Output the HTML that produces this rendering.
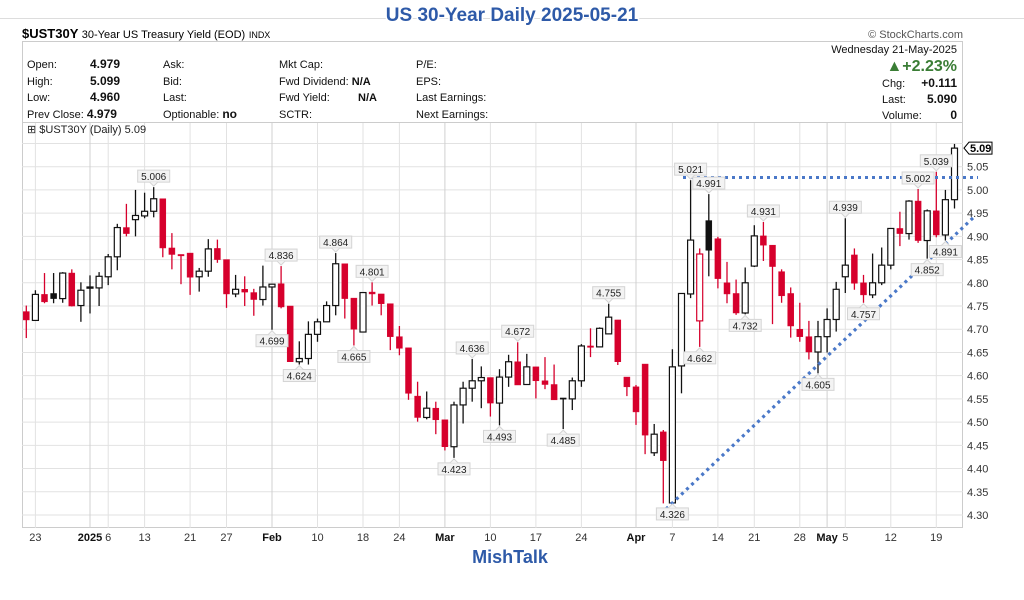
<!DOCTYPE html>
<html><head><meta charset="utf-8"><style>
body{margin:0;background:#fff;}
svg text{font-family:"Liberation Sans",sans-serif;}
</style></head><body>
<svg id="c" width="1024" height="595" viewBox="0 0 1024 595" xmlns="http://www.w3.org/2000/svg">
<line x1="0" y1="18.5" x2="1024" y2="18.5" stroke="#ddd"/>
<text x="512" y="21" text-anchor="middle" font-size="19" font-weight="bold" fill="#2e5aa8" stroke="#fff" stroke-width="3" paint-order="stroke">US 30-Year Daily 2025-05-21</text>
<text x="22" y="38" font-size="13" font-weight="bold" fill="#000">$UST30Y <tspan font-weight="normal" font-size="11">30-Year US Treasury Yield (EOD)</tspan> <tspan font-weight="normal" font-size="9">INDX</tspan></text>
<text x="963" y="38" text-anchor="end" font-size="11" fill="#555">© StockCharts.com</text>
<rect x="22.5" y="41.5" width="940" height="486" fill="none" stroke="#ccc"/>
<line x1="22" y1="122.5" x2="963" y2="122.5" stroke="#ccc"/>
<g font-size="11" fill="#111">
<text x="27" y="68">Open:</text><text x="90" y="68" font-weight="bold" font-size="12">4.979</text>
<text x="27" y="85">High:</text><text x="90" y="85" font-weight="bold" font-size="12">5.099</text>
<text x="27" y="101">Low:</text><text x="90" y="101" font-weight="bold" font-size="12">4.960</text>
<text x="27" y="118">Prev Close: <tspan font-weight="bold" font-size="12">4.979</tspan></text>
<text x="163" y="68">Ask:</text><text x="163" y="85">Bid:</text><text x="163" y="101">Last:</text>
<text x="163" y="118">Optionable: <tspan font-weight="bold" font-size="12">no</tspan></text>
<text x="279" y="68">Mkt Cap:</text>
<text x="279" y="85">Fwd Dividend: <tspan font-weight="bold">N/A</tspan></text>
<text x="279" y="101">Fwd Yield:</text><text x="358" y="101" font-weight="bold">N/A</text>
<text x="279" y="118">SCTR:</text>
<text x="416" y="68">P/E:</text><text x="416" y="85">EPS:</text><text x="416" y="101">Last Earnings:</text><text x="416" y="118">Next Earnings:</text>
<text x="957" y="53" text-anchor="end">Wednesday  21-May-2025</text>
<text x="957" y="71" text-anchor="end" font-size="16" font-weight="bold" fill="#3a7d35">▲+2.23%</text>
<text x="882" y="87">Chg:</text><text x="957" y="87" text-anchor="end" font-weight="bold" font-size="12">+0.111</text>
<text x="882" y="103">Last:</text><text x="957" y="103" text-anchor="end" font-weight="bold" font-size="12">5.090</text>
<text x="882" y="119">Volume:</text><text x="957" y="119" text-anchor="end" font-weight="bold" font-size="12">0</text>
</g>
<g id="grid"></g>
<g id="candles"></g>
<g id="trend"></g>
<g id="labels"></g>
<g id="axis"></g>
<text x="27" y="133" font-size="11" font-family="Liberation Mono" fill="#222">⊞ $UST30Y (Daily) 5.09</text>
<text x="510" y="563" text-anchor="middle" font-size="18" font-weight="bold" fill="#2e5aa8">MishTalk</text>
</svg>
<script>
const opens=[4.738,4.719,4.775,4.777,4.766,4.821,4.751,4.790,4.789,4.813,4.856,4.919,4.936,4.944,4.954,4.981,4.875,4.861,4.864,4.813,4.825,4.874,4.850,4.776,4.786,4.779,4.764,4.791,4.798,4.750,4.630,4.637,4.689,4.716,4.751,4.841,4.767,4.694,4.780,4.776,4.755,4.684,4.660,4.556,4.510,4.530,4.505,4.447,4.537,4.573,4.589,4.596,4.541,4.597,4.630,4.581,4.619,4.589,4.581,4.552,4.550,4.589,4.664,4.662,4.690,4.720,4.597,4.576,4.625,4.434,4.479,4.326,4.621,4.776,4.718,4.934,4.895,4.800,4.777,4.735,4.836,4.901,4.881,4.824,4.777,4.700,4.684,4.651,4.684,4.721,4.813,4.860,4.800,4.774,4.800,4.838,4.917,4.906,4.976,4.891,4.955,4.903,4.979];
const highs=[4.751,4.784,4.821,4.821,4.823,4.829,4.801,4.816,4.823,4.862,4.927,4.970,5.000,4.994,5.006,4.981,4.907,4.861,4.864,4.832,4.894,4.893,4.850,4.817,4.814,4.787,4.837,4.797,4.836,4.750,4.674,4.717,4.723,4.760,4.864,4.841,4.767,4.779,4.801,4.776,4.755,4.707,4.660,4.587,4.566,4.544,4.505,4.544,4.587,4.636,4.620,4.596,4.614,4.645,4.672,4.647,4.619,4.640,4.624,4.552,4.596,4.668,4.702,4.704,4.755,4.720,4.597,4.580,4.625,4.496,4.483,4.657,4.777,5.021,4.874,4.991,4.899,4.845,4.807,4.833,4.924,4.931,4.881,4.829,4.790,4.757,4.718,4.718,4.745,4.802,4.939,4.874,4.817,4.863,4.876,4.917,4.953,4.978,5.002,4.958,5.039,5.000,5.099];
const lows=[4.681,4.718,4.756,4.756,4.757,4.749,4.716,4.734,4.750,4.795,4.827,4.900,4.900,4.939,4.941,4.855,4.829,4.797,4.774,4.781,4.813,4.843,4.746,4.769,4.750,4.729,4.751,4.699,4.745,4.630,4.624,4.624,4.673,4.716,4.730,4.723,4.665,4.694,4.751,4.730,4.655,4.644,4.548,4.501,4.506,4.474,4.439,4.423,4.497,4.544,4.530,4.512,4.493,4.576,4.580,4.581,4.551,4.571,4.548,4.485,4.526,4.576,4.640,4.662,4.690,4.623,4.556,4.494,4.431,4.427,4.325,4.326,4.562,4.767,4.662,4.814,4.788,4.756,4.731,4.732,4.834,4.847,4.711,4.757,4.682,4.673,4.635,4.605,4.650,4.695,4.778,4.785,4.757,4.767,4.795,4.829,4.879,4.893,4.886,4.852,4.898,4.891,4.960];
const closes=[4.720,4.775,4.759,4.766,4.821,4.750,4.784,4.791,4.814,4.856,4.919,4.906,4.945,4.954,4.981,4.875,4.861,4.858,4.812,4.825,4.873,4.850,4.776,4.786,4.780,4.764,4.791,4.797,4.748,4.630,4.637,4.689,4.716,4.751,4.841,4.766,4.700,4.779,4.776,4.755,4.684,4.659,4.562,4.510,4.530,4.505,4.447,4.537,4.573,4.589,4.596,4.541,4.597,4.630,4.580,4.619,4.589,4.581,4.548,4.550,4.589,4.664,4.661,4.702,4.726,4.630,4.576,4.522,4.472,4.474,4.417,4.619,4.777,4.892,4.862,4.870,4.809,4.776,4.735,4.800,4.901,4.881,4.835,4.772,4.707,4.684,4.651,4.684,4.721,4.786,4.838,4.799,4.774,4.800,4.838,4.917,4.906,4.976,4.891,4.955,4.903,4.979,5.090];
const tickIdx=[1,7,9,13,18,22,27,32,37,41,46,51,56,61,67,71,76,80,85,88,90,95,100];
const tickText=["23","2025","6","13","21","27","Feb","10","18","24","Mar","10","17","24","Apr","7","14","21","28","May","5","12","19"];
const tickBold=[0,1,0,0,0,0,1,0,0,0,1,0,0,0,1,0,0,0,0,1,0,0,0];
const yTicks=[4.30,4.35,4.40,4.45,4.50,4.55,4.60,4.65,4.70,4.75,4.80,4.85,4.90,4.95,5.00,5.05,5.10];
const hiLabelIdx=[14,28,34,38,49,54,64,73,75,81,90,98,100];
const loLabelIdx=[27,30,36,47,52,59,71,74,79,87,92,99,101];
const lastValue=5.09;

const NS="http://www.w3.org/2000/svg";
const X0=26.3,DX=9.1,PL=22,PR=963,PT=123,PB=528;
function xs(i){return X0+i*DX;}
function ys(v){return 515-(v-4.30)*464.4;}
function mk(tag,attrs,parent){const e=document.createElementNS(NS,tag);for(const k in attrs)e.setAttribute(k,attrs[k]);parent.appendChild(e);return e;}
const grid=document.getElementById('grid'),cg=document.getElementById('candles'),lg=document.getElementById('labels'),ax=document.getElementById('axis'),tg=document.getElementById('trend');

yTicks.forEach(v=>{
  const y=ys(v);
  if(y>PT&&y<PB){const l=mk('line',{x1:PL,x2:PR,y1:y,y2:y,stroke:'#e2e2e2'},grid);
  
  }
  if(v<5.08){const t=mk('text',{x:967,y:y+4,'font-size':11,fill:'#333'},ax);t.textContent=v.toFixed(2);
  
  }
});
tickIdx.forEach((ix,k)=>{
  const x=xs(ix);
  const l=mk('line',{x1:x,x2:x,y1:PT,y2:PB,stroke:tickBold[k]?'#d0d0d0':'#e2e2e2'},grid);
  
  
  const t=mk('text',{x:x,y:541,'text-anchor':'middle','font-size':11,fill:tickBold[k]?'#111':'#333','font-weight':tickBold[k]?'bold':'normal'},ax);
  t.textContent=tickText[k];
  
  
});
for(let i=0;i<opens.length;i++){
  const x=xs(i),o=opens[i],c=closes[i];
  const red=i>0?c<closes[i-1]:true;
  const col=red?'#d6002c':'#111';
  const g=mk('g',{},cg);
  
  
  mk('line',{x1:x,x2:x,y1:ys(highs[i]),y2:ys(lows[i]),stroke:col,'stroke-width':1.3},g);
  const top=ys(Math.max(o,c)),bot=ys(Math.min(o,c));
  const filled=c<o;
  mk('rect',{x:x-3,y:top,width:6,height:Math.max(bot-top,1.2),fill:filled?col:'#fff',stroke:col,'stroke-width':filled?0.5:1.2},g);
}
const h=mk('line',{x1:683,y1:177.5,x2:978,y2:177.5,stroke:'#4a78c8','stroke-width':3,'stroke-dasharray':'3,4'},tg);


const d=mk('line',{x1:666,y1:509,x2:975,y2:216,stroke:'#4a78c8','stroke-width':3.2,'stroke-dasharray':'3,4'},tg);


function lab(i,v,up){
  const x=xs(i),w=32,hh=12;
  const yb=up?ys(v)-5:ys(v)+5;
  const y0=up?yb-hh:yb;
  const g=mk('g',{},lg);
  
  
  mk('rect',{x:x-w/2,y:y0,width:w,height:hh,fill:'#f3f3f3',stroke:'#d4d4d4','stroke-width':1},g);
  mk('path',{d:up?`M${x-4} ${yb} L${x} ${yb+4} L${x+4} ${yb}`:`M${x-4} ${yb} L${x} ${yb-4} L${x+4} ${yb}`,fill:'#f3f3f3',stroke:'#d4d4d4'},g);
  const t=mk('text',{x:x,y:y0+10,'text-anchor':'middle','font-size':10,fill:'#222'},g);
  t.textContent=v.toFixed(3);
}
hiLabelIdx.forEach(i=>lab(i,highs[i],true));
loLabelIdx.forEach(i=>lab(i,lows[i],false));
const ly=ys(lastValue);
const pb=mk('g',{},ax);


mk('path',{d:`M964 ${ly} L969 ${ly-6} L992 ${ly-6} L992 ${ly+6} L969 ${ly+6} Z`,fill:'#fff',stroke:'#000','stroke-width':1},pb);
const pt=mk('text',{x:970,y:ly+4,'font-size':11,'font-weight':'bold',fill:'#000'},pb);
pt.textContent=lastValue.toFixed(2);
</script>
</body></html>
